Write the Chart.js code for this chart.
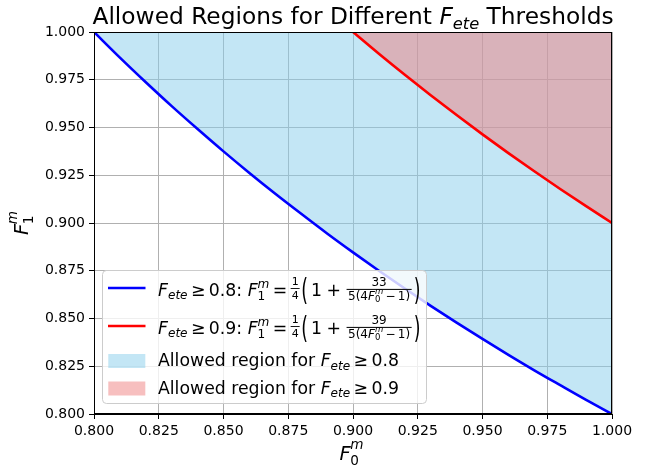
<!DOCTYPE html>
<html>
<head>
<meta charset="UTF-8">
<title>Allowed Regions</title>
<script src="https://cdn.jsdelivr.net/npm/chart.js"></script>
<style>
  body { margin: 0; background: #ffffff; }
  canvas { display: block; }
</style>
</head>
<body>
<canvas id="chart" width="652" height="468"></canvas>
<script>
// tick values for both axes
const xTicks = [0.800, 0.825, 0.850, 0.875, 0.900, 0.925, 0.950, 0.975, 1.000];
const yTicks = [0.800, 0.825, 0.850, 0.875, 0.900, 0.925, 0.950, 0.975, 1.000];

// F_ete >= 0.8 boundary curve
const blueX = [0.80, 0.81, 0.82, 0.83, 0.84, 0.85, 0.86, 0.87, 0.88, 0.89, 0.90,
               0.91, 0.92, 0.93, 0.94, 0.95, 0.96, 0.97, 0.98, 0.99, 1.00];
const blueY = [1.0000, 0.9866, 0.9737, 0.9612, 0.9492, 0.9375, 0.9262, 0.9153, 0.9048, 0.8945, 0.8846,
               0.8750, 0.8657, 0.8566, 0.8478, 0.8393, 0.8310, 0.8229, 0.8151, 0.8074, 0.8000];

// F_ete >= 0.9 boundary curve
const redX = [0.90, 0.91, 0.92, 0.93, 0.94, 0.95, 0.96, 0.97, 0.98, 0.99, 1.00];
const redY = [1.0000, 0.9886, 0.9776, 0.9669, 0.9565, 0.9464, 0.9366, 0.9271, 0.9178, 0.9088, 0.9000];

const FONT = '"DejaVu Sans", sans-serif';
const BLUE_FILL = 'rgba(135, 206, 235, 0.5)';
const RED_FILL = 'rgba(240, 128, 128, 0.5)';

// legend text sizes (normal, sub/superscript) and math spacing
const LS = 17.3, LSS = 12.1, SP = 3.4;

function pts(xs, ys) { return xs.map((x, i) => ({ x: x, y: ys[i] })); }

// draws a piece of text, returns the x where it ends
function txt(ctx, s, x, y, size, italic, align) {
    ctx.font = (italic ? 'italic ' : '') + size + 'px ' + FONT;
    ctx.textAlign = align || 'left';
    ctx.fillText(s, x, y);
    return x + ctx.measureText(s).width;
}
function width(ctx, s, size, italic) {
    ctx.font = (italic ? 'italic ' : '') + size + 'px ' + FONT;
    return ctx.measureText(s).width;
}

// tall parenthesis (stretched glyph), returns end x
function paren(ctx, s, x, yc) {
    ctx.save();
    ctx.translate(x, yc);
    ctx.scale(1, 1.75);
    ctx.font = LS + 'px ' + FONT;
    ctx.textAlign = 'left';
    ctx.fillText(s, 0, 0.314 * LS);
    const w = ctx.measureText(s).width;
    ctx.restore();
    return x + w;
}

// F_ete >= thr
function fete(ctx, x, b, thr) {
    x = txt(ctx, 'F', x, b, LS, true);
    x = txt(ctx, 'ete', x, b + 3.5, LSS, true);
    x = txt(ctx, '\u2265', x + SP, b, LS, false) + SP;
    return txt(ctx, thr, x, b, LS, false);
}

// one legend formula row: F_ete >= thr: F_1^m = 1/4(1 + num / 5(4F_0^m - 1))
function formulaRow(ctx, b, thr, num) {
    ctx.fillStyle = '#000';
    let x = fete(ctx, 158, b, thr);
    x = txt(ctx, ':', x, b, LS, false) + width(ctx, ' ', LS, false);
    x = txt(ctx, 'F', x, b, LS, true);
    txt(ctx, '1', x, b + 4, LSS, false);
    x = txt(ctx, 'm', x, b - 8, LSS, true);
    x = txt(ctx, '=', x + SP, b, LS, false) + SP;
    // 1/4
    const fw = width(ctx, '4', 11, false) + 2;
    txt(ctx, '1', x + fw / 2, b - 10.5, 11, false, 'center');
    txt(ctx, '4', x + fw / 2, b + 3, 11, false, 'center');
    ctx.fillRect(x, b - 7.5, fw, 0.9);
    x += fw + 1.5;
    x = paren(ctx, '(', x, b - 5.5);
    x = txt(ctx, '1', x + 3, b, LS, false);
    x = txt(ctx, '+', x + 4.6, b, LS, false) + 4.6;
    // big fraction
    const d1 = '5(4', d2 = '\u2212', d3 = '1)';
    const sub = 8.5, gap = 2.3;
    const dw = width(ctx, d1, 12, false) + width(ctx, 'F', 12, true) + width(ctx, 'm', sub, true) +
               gap + width(ctx, d2, 12, false) + gap + width(ctx, d3, 12, false);
    const bw = dw + 3;
    const x0 = x + 1;
    const cx = x0 + bw / 2;
    txt(ctx, num, cx, b - 9.8, 12, false, 'center');
    ctx.fillRect(x0, b - 6.6, bw, 1);
    const db = b + 4;
    let dx = cx - dw / 2;
    dx = txt(ctx, d1, dx, db, 12, false);
    dx = txt(ctx, 'F', dx, db, 12, true);
    txt(ctx, '0', dx, db + 2.5, sub, false);
    dx = txt(ctx, 'm', dx, db - 5.5, sub, true) + gap;
    dx = txt(ctx, d2, dx, db, 12, false) + gap;
    txt(ctx, d3, dx, db, 12, false);
    paren(ctx, ')', x0 + bw + 2, b - 5.5);
}

const decorations = {
    id: 'decorations',
    afterDatasetsDraw(chart) {
        const ctx = chart.ctx, a = chart.chartArea;
        ctx.save();
        ctx.strokeStyle = '#000';
        ctx.lineWidth = 1;
        ctx.strokeRect(a.left + 0.5, a.top + 0.5, a.right - a.left - 1, a.bottom - a.top - 1);
        ctx.restore();
    },
    afterDraw(chart) {
        const ctx = chart.ctx;
        ctx.save();
        ctx.fillStyle = '#000';
        ctx.textBaseline = 'alphabetic';

        // title
        const TS = 23.3, TSS = 16.3;
        const t1 = 'Allowed Regions for Different ', t2 = ' Thresholds';
        const tw = width(ctx, t1, TS, false) + width(ctx, 'F', TS, true) + width(ctx, 'ete', TSS, true) + width(ctx, t2, TS, false);
        let x = 353 - tw / 2;
        x = txt(ctx, t1, x, 24, TS, false);
        x = txt(ctx, 'F', x, 24, TS, true);
        x = txt(ctx, 'ete', x, 29, TSS, true);
        txt(ctx, t2, x, 24, TS, false);

        // x axis label
        x = txt(ctx, 'F', 339.5, 460, 19.5, true);
        txt(ctx, 'm', x - 0.5, 449, 13.6, true);
        txt(ctx, '0', x - 0.5, 465, 13.6, false);

        // y axis label (rotated)
        ctx.save();
        ctx.translate(28, 235);
        ctx.rotate(-Math.PI / 2);
        x = txt(ctx, 'F', 0, 0, 19.5, true);
        txt(ctx, 'm', x - 0.5, -11, 13.6, true);
        txt(ctx, '1', x - 0.5, 5, 13.6, false);
        ctx.restore();

        // legend box
        ctx.beginPath();
        ctx.roundRect(102.5, 270.5, 324, 133, 4);
        ctx.fillStyle = 'rgba(255, 255, 255, 0.8)';
        ctx.fill();
        ctx.strokeStyle = '#cccccc';
        ctx.lineWidth = 1;
        ctx.stroke();

        ctx.lineWidth = 2.6;
        ctx.strokeStyle = '#0000ff';
        ctx.beginPath(); ctx.moveTo(108, 288); ctx.lineTo(145.5, 288); ctx.stroke();
        ctx.strokeStyle = '#ff0000';
        ctx.beginPath(); ctx.moveTo(108, 326); ctx.lineTo(145.5, 326); ctx.stroke();
        ctx.fillStyle = BLUE_FILL;
        ctx.fillRect(108.3, 354, 37, 14);
        ctx.fillStyle = RED_FILL;
        ctx.fillRect(108.3, 381.5, 37, 14);

        formulaRow(ctx, 295.5, '0.8', '33');
        formulaRow(ctx, 333.5, '0.9', '39');

        [['0.8', 366], ['0.9', 393.5]].forEach(r => {
            ctx.fillStyle = '#000';
            const xx = txt(ctx, 'Allowed region for ', 158, r[1], LS, false);
            fete(ctx, xx, r[1], r[0]);
        });
        ctx.restore();
    }
};

function axis(ticks, fit) {
    return {
        type: 'linear',
        min: 0.8,
        max: 1.0,
        afterBuildTicks: s => { s.ticks = ticks.map(v => ({ value: v })); },
        afterFit: fit,
        ticks: {
            callback: v => Number(v).toFixed(3),
            color: '#000',
            font: { family: 'DejaVu Sans', size: 14 },
            padding: 4,
            maxRotation: 0,
            autoSkip: false
        },
        grid: { color: '#b0b0b0', lineWidth: 1, tickColor: '#000', tickLength: 5, tickWidth: 1 },
        border: { color: '#000', width: 1 }
    };
}

new Chart(document.getElementById('chart'), {
    type: 'line',
    data: {
        datasets: [
            {
                label: 'F_ete >= 0.8',
                data: pts(blueX, blueY),
                borderColor: '#0000ff',
                backgroundColor: BLUE_FILL,
                borderWidth: 2.6,
                pointRadius: 0,
                cubicInterpolationMode: 'monotone',
                fill: 'end',
                order: 1
            },
            {
                label: 'F_ete >= 0.9',
                data: pts(redX, redY),
                borderColor: '#ff0000',
                backgroundColor: RED_FILL,
                borderWidth: 2.6,
                pointRadius: 0,
                cubicInterpolationMode: 'monotone',
                fill: 'end',
                order: 0
            }
        ]
    },
    options: {
        responsive: false,
        animation: false,
        devicePixelRatio: 1,
        layout: { padding: { top: 32, right: 40, left: 0, bottom: 0 } },
        plugins: {
            legend: { display: false },
            title: { display: false },
            tooltip: { enabled: false },
            filler: { drawTime: 'beforeDatasetsDraw' }
        },
        scales: {
            x: axis(xTicks, s => { s.height = 54; }),
            y: axis(yTicks, s => { s.width = 94; })
        }
    },
    plugins: [decorations]
});
</script>
</body>
</html>
